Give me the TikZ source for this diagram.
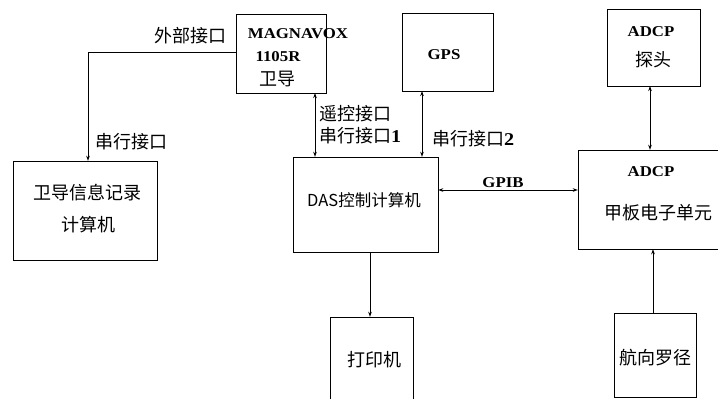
\documentclass[tikz,border=0pt]{standalone}
\usepackage{fontspec}
\setmainfont{Liberation Serif}
\newfontfamily\wide[FakeStretch=1.12]{Liberation Serif Bold}
\newfontfamily\cjk{Noto Sans CJK SC}
\usetikzlibrary{arrows.meta}
\begin{document}
\begin{tikzpicture}[x=1pt,y=-1pt,
  box/.style={draw,line width=0.9pt,inner sep=0pt},
  lab/.style={inner sep=0pt,font=\cjk\fontsize{18}{20}\selectfont},
  lat/.style={inner sep=0pt,font=\wide\fontsize{15}{17}\selectfont},
  conn/.style={line width=0.9pt,{Stealth[length=5pt,width=3.5pt]}-{Stealth[length=5pt,width=3.5pt]}},
  conn1/.style={line width=0.9pt,-{Stealth[length=5pt,width=3.5pt]}}]
\useasboundingbox (0,0) rectangle (718,399);
% boxes
\draw[box] (236,14) rectangle (326,93);
\node (mag) at (281,53.5) [minimum width=90pt,minimum height=79pt] {};
\draw[box] (402,13) rectangle (493,91);
\node (gps) at (447.5,52) [minimum width=91pt,minimum height=78pt] {};
\draw[box] (607,9) rectangle (700,86);
\node (probe) at (653.5,47.5) [minimum width=93pt,minimum height=77pt] {};
\draw[box] (13,161) rectangle (157,260);
\node (rec) at (85,210.5) [minimum width=144pt,minimum height=99pt] {};
\draw[box] (293,157) rectangle (438,252);
\node (das) at (365.5,204.5) [minimum width=145pt,minimum height=95pt] {};
\draw[box] (578,150) rectangle (721,249);
\node (deck) at (649.5,199.5) [minimum width=143pt,minimum height=99pt] {};
\draw[box] (330,317) rectangle (413,402);
\node (prn) at (371.5,359.5) [minimum width=83pt,minimum height=85pt] {};
\draw[box] (614,313) rectangle (696,397);
\node (comp) at (655,355) [minimum width=82pt,minimum height=84pt] {};
% texts
\node[lat] at (298,34) {MAGNAVOX};
\node[lat] at (278,57) {1105R};
\node[lab] at (277,79) {卫导};
\node[lat] at (444,55) {GPS};
\node[lat] at (651,32) {ADCP};
\node[lab] at (653,60) {探头};
\node[lab] at (88,193) {卫导信息记录};
\node[lab] at (88,225) {计算机};
\node[lab,font=\cjk\fontsize{16.5}{18}\selectfont] at (364,200) {DAS控制计算机};
\node[lat] at (651,172) {ADCP};
\node[lab] at (658,213) {甲板电子单元};
\node[lab] at (374,360) {打印机};
\node[lab] at (655,358) {航向罗径};
% connectors
\coordinate (c1) at (88,52);
\draw[conn1] (mag.west |- c1) -- (c1) -- (c1 |- rec.north);
\node[lab] at (190,36) {外部接口};
\node[lab] at (131,142) {串行接口};
\draw[conn] (315,93) coordinate (m1) -- (m1 |- das.north);
\node[lab,anchor=west] at (319,114) {遥控接口};
\node[lab,anchor=west] at (319,136) {串行接口{\wide 1}};
\draw[conn] (422,91) coordinate (g1) -- (g1 |- das.north);
\node[lab,anchor=west] at (432,139) {串行接口{\wide 2}};
\draw[conn] (das.east |- 0,190) -- (deck.west |- 0,190);
\node[lat] at (503,183) {GPIB};
\draw[conn] (650,86) coordinate (p1) -- (p1 |- deck.north);
\draw[conn1] (653,313) coordinate (k1) -- (k1 |- deck.south);
\draw[conn1] (370,252) coordinate (d1) -- (d1 |- prn.north);
\end{tikzpicture}
\end{document}
